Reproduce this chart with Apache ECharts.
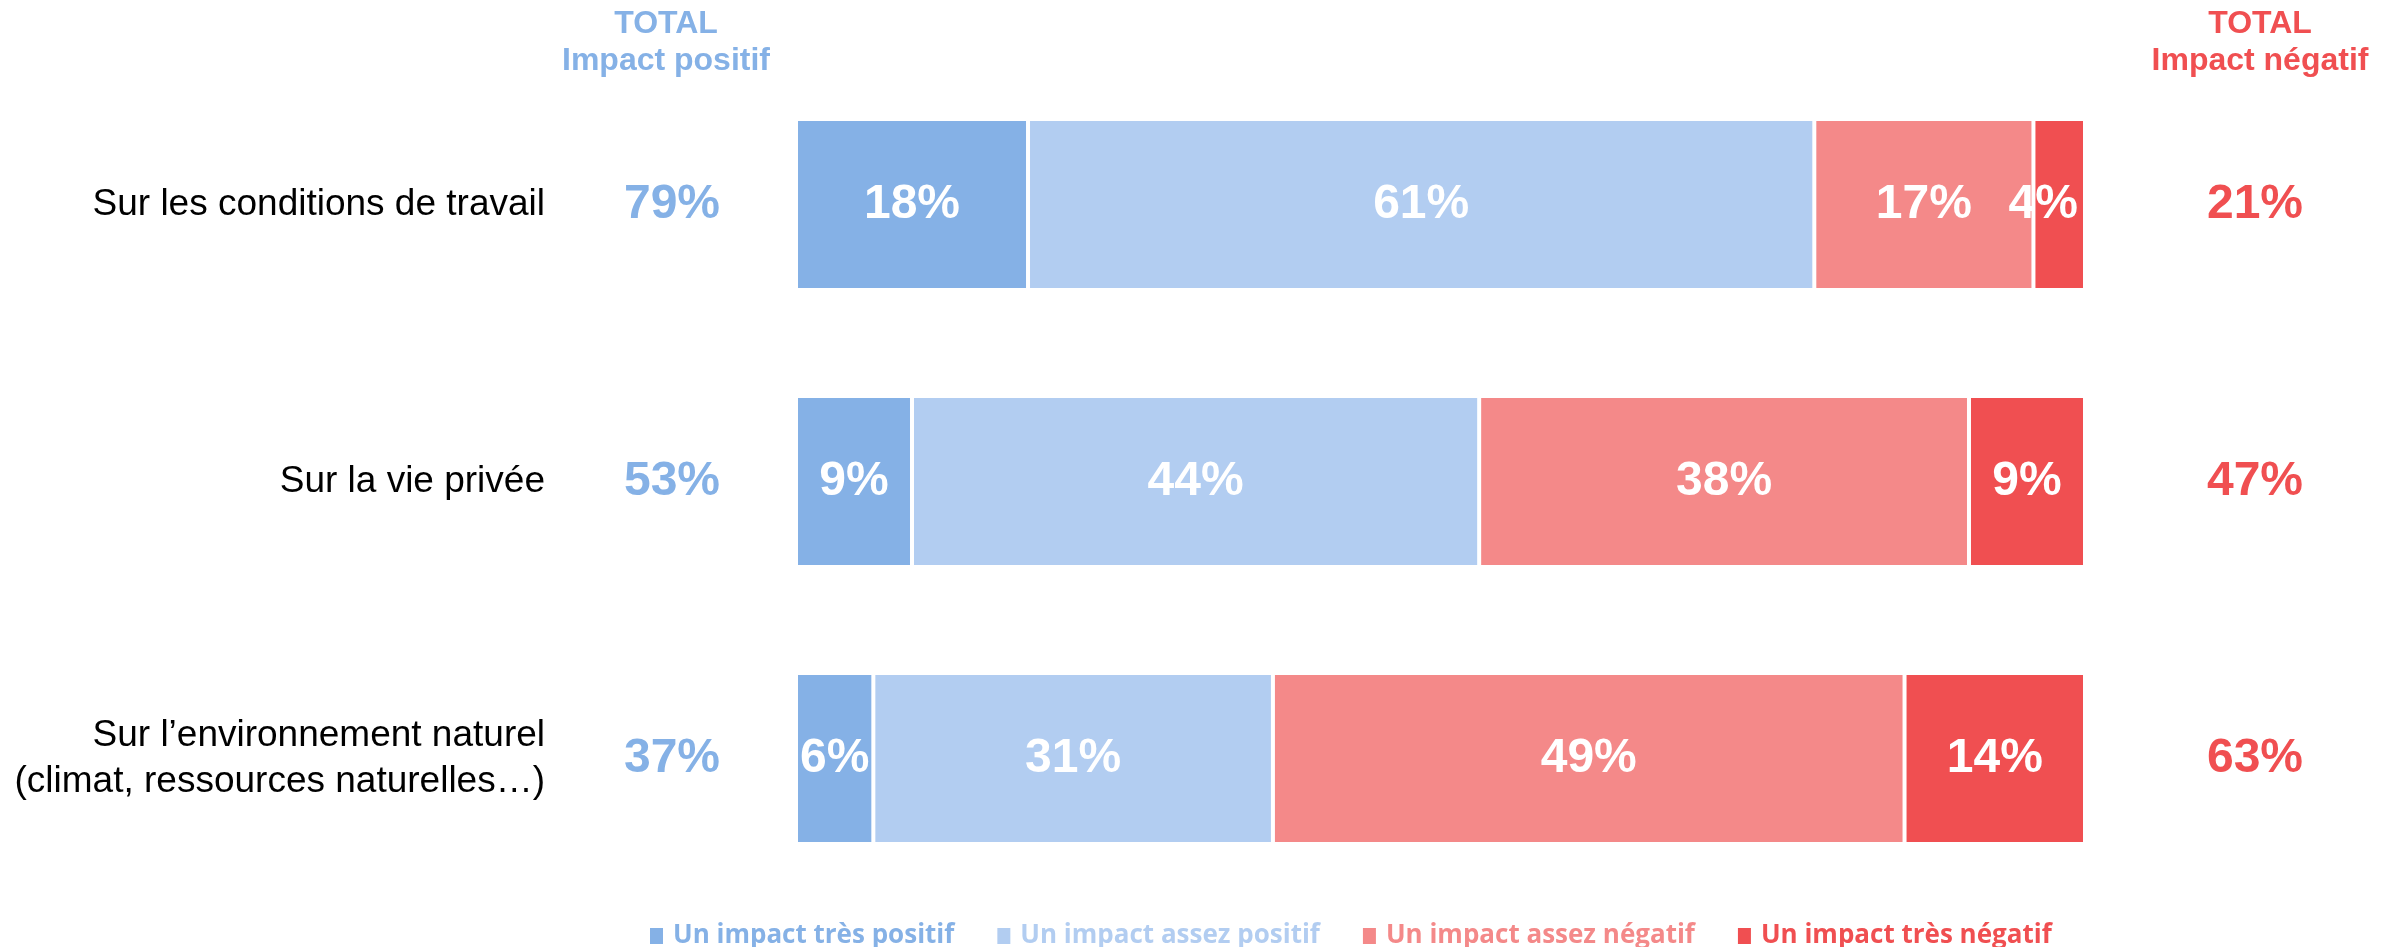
<!DOCTYPE html>
<html>
<head>
<meta charset="utf-8">
<script src="https://cdn.jsdelivr.net/npm/echarts@6/dist/echarts.min.js"></script>
<style>
html,body{margin:0;padding:0;background:#fff;}
#chart{width:2396px;height:947px;}
</style>
</head>
<body>
<div id="chart"></div>
<script>
const categories = ['Sur les conditions de travail', 'Sur la vie privée', 'Sur l’environnement naturel\n(climat, ressources naturelles…)'];
const seriesNames = ['Un impact très positif', 'Un impact assez positif', 'Un impact assez négatif', 'Un impact très négatif'];
const tresPositif = [18, 9, 6];
const assezPositif = [61, 44, 31];
const assezNegatif = [17, 38, 49];
const tresNegatif = [4, 9, 14];
const totalPositif = ['79%', '53%', '37%'];
const totalNegatif = ['21%', '47%', '63%'];
const colors = ['#85B1E6', '#B2CDF1', '#F48989', '#F04F51'];

const FONT = '"Liberation Sans", Arial, sans-serif';
const values = [tresPositif, assezPositif, assezNegatif, tresNegatif];

const chart = echarts.init(document.getElementById('chart'));
chart.setOption({
  animation: false,
  backgroundColor: '#ffffff',
  grid: { left: 796, right: 311, top: 66, bottom: 50, containLabel: false },
  xAxis: { type: 'value', min: 0, max: 100, show: false },
  yAxis: [
    {
      type: 'category', data: categories, inverse: true, position: 'left',
      axisLine: { show: false }, axisTick: { show: false },
      axisLabel: { margin: 251, align: 'right', color: '#000', fontSize: 37, lineHeight: 46, fontFamily: FONT }
    },
    {
      type: 'category', data: totalPositif, inverse: true, position: 'left', offset: 0,
      axisLine: { show: false }, axisTick: { show: false },
      axisLabel: { margin: 124, align: 'center', color: colors[0], fontSize: 48, fontWeight: 'bold', fontFamily: FONT }
    },
    {
      type: 'category', data: totalNegatif, inverse: true, position: 'right', offset: 0,
      axisLine: { show: false }, axisTick: { show: false },
      axisLabel: { margin: 170, align: 'center', color: colors[3], fontSize: 48, fontWeight: 'bold', fontFamily: FONT }
    }
  ],
  legend: {
    left: 648, top: 923, padding: 0,
    itemWidth: 15, itemHeight: 18, itemGap: 41,
    icon: 'rect',
    data: seriesNames.map((n, i) => ({ name: n, textStyle: { color: colors[i] } })),
    textStyle: { fontSize: 26, fontWeight: 'bold', fontFamily: '"Open Sans", "Noto Sans", sans-serif', padding: [0, 0, 0, 4] }
  },
  graphic: [
    {
      type: 'text', x: 666, y: 6,
      style: { text: 'TOTAL\nImpact positif', align: 'center', verticalAlign: 'top', fill: colors[0], font: 'bold 32px ' + FONT, lineHeight: 37 }
    },
    {
      type: 'text', x: 2260, y: 6,
      style: { text: 'TOTAL\nImpact négatif', align: 'center', verticalAlign: 'top', fill: colors[3], font: 'bold 32px ' + FONT, lineHeight: 37 }
    }
  ],
  series: seriesNames.map((name, i) => ({
    name: name,
    type: 'bar',
    stack: 'total',
    barWidth: 171,
    data: values[i].map(v => v < 5 ? { value: v, label: { padding: [8, 32, 0, 0] } } : v),
    itemStyle: { color: colors[i], borderColor: '#ffffff', borderWidth: 2 },
    label: {
      show: true, position: 'inside', formatter: '{c}%', padding: [8, 0, 0, 0],
      color: '#ffffff', fontSize: 48, fontWeight: 'bold', fontFamily: FONT
    },
    labelLayout: { hideOverlap: false }
  }))
});
</script>
</body>
</html>
